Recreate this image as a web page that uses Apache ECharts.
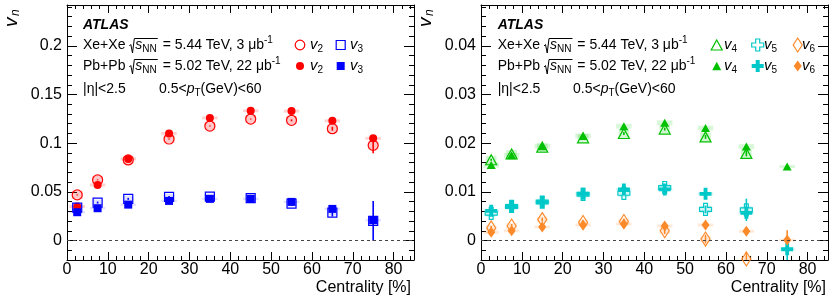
<!DOCTYPE html>
<html><head><meta charset="utf-8">
<script src="https://cdn.jsdelivr.net/npm/echarts@6/dist/echarts.min.js"></script>
<style>html,body{margin:0;padding:0;background:#fff}#c{width:830px;height:307px}#log{position:absolute;left:100px;top:120px;font:10px monospace;color:#c00;width:700px}</style>
</head><body><div id="c"></div><div id="log"></div>
<script>
window.onerror = function(m){ document.getElementById('log').textContent += ' ERR:' + m; };
function log(s){ document.getElementById('log').textContent += ' ' + s; }
// ---------------- data ----------------
const centrality = [2.5, 7.5, 15, 25, 35, 45, 55, 65, 75];

// left panel: v2, v3
const xeV2 = [0.0469, 0.0623, 0.0828, 0.1043, 0.1176, 0.1248, 0.1235, 0.1149, 0.0978];
const pbV2 = [0.0349, 0.0571, 0.0838, 0.1100, 0.1260, 0.1333, 0.1330, 0.1230, 0.1050];
const xeV3 = [0.0338, 0.0390, 0.0428, 0.0448, 0.0451, 0.0435, 0.0380, 0.0287, 0.0202];
const pbV3 = [0.0291, 0.0332, 0.0369, 0.0407, 0.0428, 0.0428, 0.0397, 0.0325, 0.0209];
const xeV2Stat = [0.0005, 0.0005, 0.0005, 0.0005, 0.0005, 0.0005, 0.001, 0.002, 0.008];
const pbV2Stat = [0, 0, 0, 0, 0, 0, 0, 0, 0.001];
const xeV3Stat = [0.001, 0.001, 0.001, 0.001, 0.001, 0.001, 0.002, 0.004, 0.0205];
const pbV3Stat = [0, 0, 0, 0, 0, 0, 0, 0.001, 0.002];
const xeV2Sys = [0.004, 0.004, 0.004, 0.004, 0.004, 0.004, 0.004, 0.004, 0.004];
const pbV2Sys = [0.0015, 0.0015, 0.0015, 0.0015, 0.0015, 0.0015, 0.0015, 0.0015, 0.0015];
const xeV3Sys = [0.003, 0.003, 0.003, 0.003, 0.003, 0.003, 0.003, 0.003, 0.003];
const pbV3Sys = [0.0012, 0.0012, 0.0012, 0.0012, 0.0012, 0.0012, 0.0012, 0.0012, 0.0012];

// right panel: v4, v5, v6
const xeV4 = [0.0166, 0.0178, 0.0192, 0.0211, 0.0220, 0.0229, 0.0213, 0.0179, null];
const pbV4 = [0.0155, 0.0175, 0.0194, 0.0215, 0.0235, 0.0242, 0.0231, 0.0193, 0.0152];
const xeV5 = [0.0056, 0.0070, 0.0079, 0.0095, 0.0097, 0.0109, 0.0064, 0.0063, null];
const pbV5 = [0.0061, 0.0069, 0.0079, 0.0096, 0.0105, 0.0105, 0.0096, 0.0057, -0.0018];
const xeV6 = [0.0026, 0.0030, 0.0043, 0.0037, 0.0039, 0.0020, 0.0003, -0.0038, null];
const pbV6 = [0.0017, 0.0020, 0.0028, 0.0032, 0.0034, 0.0030, 0.0032, 0.0019, 0.0001];
const xeV4Stat = [0.0002, 0.0002, 0.0002, 0.0002, 0.0003, 0.0003, 0.0004, 0.0006, null];
const pbV4Stat = [0, 0, 0, 0, 0, 0, 0, 0.0002, 0.0004];
const xeV5Stat = [0.0003, 0.0003, 0.0003, 0.0003, 0.0004, 0.0005, 0.0008, 0.0023, null];
const pbV5Stat = [0, 0, 0, 0, 0, 0, 0.0002, 0.0006, 0.0025];
const xeV6Stat = [0.0004, 0.0004, 0.0004, 0.0005, 0.0006, 0.0007, 0.0009, 0.0015, null];
const pbV6Stat = [0, 0, 0, 0, 0, 0.0002, 0.0003, 0.0004, 0.002];
const xeV4Sys = [0.0008, 0.0008, 0.0008, 0.0008, 0.0009, 0.0009, 0.0009, 0.0009, null];
const pbV4Sys = [0.0005, 0.0005, 0.0005, 0.0005, 0.0005, 0.0005, 0.0005, 0.0005, 0.0003];
const xeV5Sys = [0.0007, 0.0007, 0.0007, 0.0007, 0.0008, 0.0008, 0.0008, 0.0008, null];
const pbV5Sys = [0.0003, 0.0003, 0.0003, 0.0003, 0.0003, 0.0003, 0.0003, 0.0003, 0.0003];
const xeV6Sys = [0.0006, 0.0006, 0.0006, 0.0006, 0.0006, 0.0006, 0.0006, 0.0006, null];
const pbV6Sys = [0.0003, 0.0003, 0.0003, 0.0003, 0.0003, 0.0003, 0.0003, 0.0003, 0.0003];

// tick labels / tick positions
const xTicksMajor = [0, 10, 20, 30, 40, 50, 60, 70, 80];
const xTicksMinor = [2, 4, 6, 8, 12, 14, 16, 18, 22, 24, 26, 28, 32, 34, 36, 38, 42, 44, 46, 48, 52, 54, 56, 58, 62, 64, 66, 68, 72, 74, 76, 78, 82, 84];
const yLeftMajor = [0, 0.05, 0.1, 0.15, 0.2];
const yLeftMinor = [-0.01, 0.01, 0.02, 0.03, 0.04, 0.06, 0.07, 0.08, 0.09, 0.11, 0.12, 0.13, 0.14, 0.16, 0.17, 0.18, 0.19, 0.21, 0.22, 0.23, 0.24];
const yRightMajor = [0, 0.01, 0.02, 0.03, 0.04];
const yRightMinor = [-0.002, 0.002, 0.004, 0.006, 0.008, 0.012, 0.014, 0.016, 0.018, 0.022, 0.024, 0.026, 0.028, 0.032, 0.034, 0.036, 0.038, 0.042, 0.044, 0.046, 0.048];
const xRange = [0, 85];
const yLeftRange = [-0.02, 0.242];
const yRightRange = [-0.004, 0.0484];

// ---------------- style ----------------
const FF = '"Liberation Sans", Arial, Helvetica, sans-serif';
const RED = '#ff0000', BLUE = '#0000ff', GREEN = '#00c000', CYAN = '#00c8c8', ORANGE = '#fd8a2a';
const PLUS = 'path://M3.4,0H6.6V3.4H10V6.6H6.6V10H3.4V6.6H0V3.4H3.4Z';

const chart = echarts.init(document.getElementById('c'), null, {renderer: 'canvas'});

function axLine(show) { return {show: show, onZero: false, lineStyle: {color: '#000', width: 1}}; }
function xAxes(g) {
  const base = {type: 'value', gridIndex: g, min: xRange[0], max: xRange[1], splitLine: {show: false}};
  return [
    Object.assign({}, base, {position: 'bottom', axisLine: axLine(true),
      axisTick: {show: true, inside: true, length: 8, customValues: xTicksMajor, lineStyle: {color: '#000'}},
      axisLabel: {show: true, customValues: xTicksMajor, fontSize: 16, fontFamily: FF, color: '#000', margin: 2}}),
    Object.assign({}, base, {position: 'bottom', axisLine: axLine(false),
      axisTick: {show: true, inside: true, length: 4, customValues: xTicksMinor, lineStyle: {color: '#000'}}, axisLabel: {show: false}}),
    Object.assign({}, base, {position: 'top', axisLine: axLine(true),
      axisTick: {show: true, inside: true, length: 8, customValues: xTicksMajor, lineStyle: {color: '#000'}}, axisLabel: {show: false}}),
    Object.assign({}, base, {position: 'top', axisLine: axLine(false),
      axisTick: {show: true, inside: true, length: 4, customValues: xTicksMinor, lineStyle: {color: '#000'}}, axisLabel: {show: false}})
  ];
}
function yAxes(g, range, major, minor) {
  const base = {type: 'value', gridIndex: g, min: range[0], max: range[1], splitLine: {show: false}};
  return [
    Object.assign({}, base, {position: 'left', axisLine: axLine(true),
      axisTick: {show: true, inside: true, length: 10, customValues: major, lineStyle: {color: '#000'}},
      axisLabel: {show: true, customValues: major, fontSize: 16, fontFamily: FF, color: '#000', margin: 5}}),
    Object.assign({}, base, {position: 'left', axisLine: axLine(false),
      axisTick: {show: true, inside: true, length: 5, customValues: minor, lineStyle: {color: '#000'}}, axisLabel: {show: false}}),
    Object.assign({}, base, {position: 'right', axisLine: axLine(true),
      axisTick: {show: true, inside: true, length: 10, customValues: major, lineStyle: {color: '#000'}}, axisLabel: {show: false}}),
    Object.assign({}, base, {position: 'right', axisLine: axLine(false),
      axisTick: {show: true, inside: true, length: 5, customValues: minor, lineStyle: {color: '#000'}}, axisLabel: {show: false}})
  ];
}

function sysSeries(g, vals, sys, color, halfW) {
  return {
    type: 'custom', xAxisIndex: g * 4, yAxisIndex: g * 4, z: 1, silent: true, clip: true,
    data: centrality.map((c, i) => [c, vals[i], sys[i]]).filter(d => d[1] != null),
    renderItem(params, api) {
      const c = api.value(0), v = api.value(1), s = api.value(2);
      const p1 = api.coord([c - halfW, v + s]), p2 = api.coord([c + halfW, v - s]);
      return {type: 'rect', shape: {x: p1[0], y: p1[1], width: p2[0] - p1[0], height: p2[1] - p1[1]}, style: {fill: color}};
    }
  };
}
function statSeries(g, vals, stat, color) {
  return {
    type: 'custom', xAxisIndex: g * 4, yAxisIndex: g * 4, z: 2, silent: true, clip: true,
    data: centrality.map((c, i) => [c, vals[i], stat[i]]).filter(d => d[1] != null && d[2] > 0),
    renderItem(params, api) {
      const c = api.value(0), v = api.value(1), e = api.value(2);
      const p1 = api.coord([c, v + e]), p2 = api.coord([c, v - e]);
      return {type: 'line', shape: {x1: p1[0], y1: p1[1], x2: p2[0], y2: p2[1]}, style: {stroke: color, lineWidth: 1.6}};
    }
  };
}
function markSeries(g, vals, symbol, size, color, open) {
  return {
    type: 'scatter', xAxisIndex: g * 4, yAxisIndex: g * 4, z: 3, silent: true, clip: true,
    symbol: symbol, symbolSize: size,
    data: centrality.map((c, i) => [c, vals[i]]).filter(d => d[1] != null),
    itemStyle: open ? {color: 'rgba(255,255,255,0)', borderColor: color, borderWidth: 1.2, opacity: 1}
                    : {color: color, opacity: 1}
  };
}
function zeroLine(g) {
  return {
    type: 'scatter', xAxisIndex: g * 4, yAxisIndex: g * 4, data: [], silent: true,
    markLine: {silent: true, symbol: 'none', label: {show: false},
      lineStyle: {color: '#444', type: [3, 3], width: 1}, data: [{yAxis: 0}]}
  };
}

// ---------------- text helpers ----------------
const mctx = document.createElement('canvas').getContext('2d');
function tw(t, size, it, b) {
  mctx.font = (it ? 'italic ' : '') + (b ? 'bold ' : '') + size + 'px ' + FF;
  return mctx.measureText(t).width;
}
const graphics = [];
function textLine(x, yc, segs) {
  let cx = x, radStart = null;
  for (const s of segs) {
    if (s.rad === 'open') { radStart = cx; cx += 6; continue; }
    if (s.rad === 'close') {
      graphics.push({type: 'polyline', silent: true, shape: {points: [[radStart, yc + 1], [radStart + 1.5, yc - 0.5], [radStart + 3.2, yc + 8], [radStart + 5, yc - 6.5], [cx + 1, yc - 6.5]]},
        style: {stroke: '#000', lineWidth: 1, fill: null}});
      cx += 2; continue;
    }
    const size = s.size || 14;
    const dy = s.sub ? 4 : (s.sup ? -5 : 0);
    graphics.push({type: 'text', silent: true, x: cx, y: yc + dy,
      style: {text: s.t, fontSize: size, fontFamily: FF, fontStyle: s.it ? 'italic' : 'normal', fontWeight: s.b ? 'bold' : 'normal',
        fill: '#000', align: 'left', verticalAlign: 'middle'}});
    cx += tw(s.t, size, s.it, s.b);
  }
}
function sqrtLine(x, yc, sys, energy, lumi) {
  textLine(x, yc, [{t: sys + ' '}, {rad: 'open'}, {t: 's', it: true}, {t: 'NN', sub: true, size: 10}, {rad: 'close'},
    {t: ' = ' + energy + ' TeV, ' + lumi + ' \u03bcb'}, {t: '-1', sup: true, size: 10}]);
}
function vLabel(x, yc, n) { textLine(x, yc, [{t: 'v', it: true, size: 15}, {t: String(n), sub: true, size: 10}]); }
function yTitle(x, y) {
  graphics.push({type: 'group', x: x, y: y, rotation: Math.PI / 2, silent: true, children: [
    {type: 'text', x: 0, y: 0, style: {text: 'v', fontSize: 19, fontStyle: 'italic', fontFamily: FF, fill: '#000', align: 'left', verticalAlign: 'middle'}},
    {type: 'text', x: 11, y: 4, style: {text: 'n', fontSize: 12, fontStyle: 'italic', fontFamily: FF, fill: '#000', align: 'left', verticalAlign: 'middle'}}
  ]});
}
function mk(type, cx, cy, color, open) {
  const style = open ? {fill: null, stroke: color, lineWidth: 1.2} : {fill: color};
  if (type === 'circle') graphics.push({type: 'circle', silent: true, shape: {cx: cx, cy: cy, r: open ? 4.8 : 4}, style: style});
  else if (type === 'rect') { const h = open ? 4.5 : 4; graphics.push({type: 'rect', silent: true, shape: {x: cx - h, y: cy - h, width: 2 * h, height: 2 * h}, style: style}); }
  else if (type === 'tri') { const w = open ? 5.5 : 4.5, h = open ? 5 : 4.2; graphics.push({type: 'polygon', silent: true, shape: {points: [[cx - w, cy + h], [cx + w, cy + h], [cx, cy - h]]}, style: style}); }
  else if (type === 'plus') { const a = 6, b = 2; graphics.push({type: 'polygon', silent: true, shape: {points: [[cx - b, cy - a], [cx + b, cy - a], [cx + b, cy - b], [cx + a, cy - b], [cx + a, cy + b], [cx + b, cy + b], [cx + b, cy + a], [cx - b, cy + a], [cx - b, cy + b], [cx - a, cy + b], [cx - a, cy - b], [cx - b, cy - b]]}, style: style}); }
  else if (type === 'dia') { const w = open ? 4.5 : 4, h = open ? 7 : 5.5; graphics.push({type: 'polygon', silent: true, shape: {points: [[cx, cy - h], [cx + w, cy], [cx, cy + h], [cx - w, cy]]}, style: style}); }
}

// left panel texts
textLine(83, 25.5, [{t: 'ATLAS', it: true, b: true}]);
sqrtLine(83, 45, 'Xe+Xe', '5.44', '3');
sqrtLine(83, 66, 'Pb+Pb', '5.02', '22');
textLine(83, 89, [{t: '|\u03b7|<2.5'}]);
textLine(159, 89, [{t: '0.5<'}, {t: 'p', it: true}, {t: 'T', sub: true, size: 10}, {t: '(GeV)<60'}]);
mk('circle', 300, 45, RED, true); vLabel(310, 45, 2);
mk('rect', 340.7, 45, BLUE, true); vLabel(350, 45, 3);
mk('circle', 300, 66, RED, false); vLabel(310, 66, 2);
mk('rect', 340.7, 66, BLUE, false); vLabel(350, 66, 3);
yTitle(12, 27);
graphics.push({type: 'text', silent: true, x: 411, y: 288, style: {text: 'Centrality [%]', fontSize: 16, fontFamily: FF, fill: '#000', align: 'right', verticalAlign: 'middle'}});

// right panel texts
textLine(497.7, 25.5, [{t: 'ATLAS', it: true, b: true}]);
sqrtLine(497.7, 45, 'Xe+Xe', '5.44', '3');
sqrtLine(497.7, 66, 'Pb+Pb', '5.02', '22');
textLine(497.7, 89, [{t: '|\u03b7|<2.5'}]);
textLine(573, 89, [{t: '0.5<'}, {t: 'p', it: true}, {t: 'T', sub: true, size: 10}, {t: '(GeV)<60'}]);
mk('tri', 716.7, 45, GREEN, true); vLabel(724, 45, 4);
mk('plus', 757.7, 45, CYAN, true); vLabel(764, 45, 5);
mk('dia', 797.7, 45, ORANGE, true); vLabel(802, 45, 6);
mk('tri', 716.7, 66, GREEN, false); vLabel(724, 66, 4);
mk('plus', 757.7, 66, CYAN, false); vLabel(764, 66, 5);
mk('dia', 797.7, 66, ORANGE, false); vLabel(802, 66, 6);
yTitle(426, 27);
graphics.push({type: 'text', silent: true, x: 826, y: 288, style: {text: 'Centrality [%]', fontSize: 16, fontFamily: FF, fill: '#000', align: 'right', verticalAlign: 'middle'}});

const option = {
  animation: false,
  backgroundColor: '#fff',
  grid: [
    {left: 67, top: 5, width: 347, height: 255, containLabel: false},
    {left: 481, top: 5, width: 347, height: 255, containLabel: false}
  ],
  xAxis: [].concat(xAxes(0), xAxes(1)),
  yAxis: [].concat(yAxes(0, yLeftRange, yLeftMajor, yLeftMinor), yAxes(1, yRightRange, yRightMajor, yRightMinor)),
  series: [
    zeroLine(0), zeroLine(1),
    sysSeries(0, xeV2, xeV2Sys, 'rgba(255,0,0,0.22)', 1.3),
    sysSeries(0, pbV2, pbV2Sys, 'rgba(255,0,0,0.18)', 1.9),
    sysSeries(0, xeV3, xeV3Sys, 'rgba(0,0,255,0.12)', 1.3),
    sysSeries(0, pbV3, pbV3Sys, 'rgba(0,0,255,0.12)', 1.9),
    statSeries(0, xeV2, xeV2Stat, RED),
    statSeries(0, pbV2, pbV2Stat, RED),
    statSeries(0, xeV3, xeV3Stat, BLUE),
    statSeries(0, pbV3, pbV3Stat, BLUE),
    markSeries(0, xeV2, 'circle', 10, RED, true),
    markSeries(0, pbV2, 'circle', 8, RED, false),
    markSeries(0, xeV3, 'rect', 9, BLUE, true),
    markSeries(0, pbV3, 'rect', 8, BLUE, false),

    sysSeries(1, xeV4, xeV4Sys, 'rgba(0,200,0,0.18)', 1.3),
    sysSeries(1, pbV4, pbV4Sys, 'rgba(0,200,0,0.15)', 1.9),
    sysSeries(1, xeV5, xeV5Sys, 'rgba(0,200,200,0.18)', 1.3),
    sysSeries(1, pbV5, pbV5Sys, 'rgba(0,200,200,0.15)', 1.9),
    sysSeries(1, xeV6, xeV6Sys, 'rgba(253,138,42,0.18)', 1.3),
    sysSeries(1, pbV6, pbV6Sys, 'rgba(253,138,42,0.18)', 1.9),
    statSeries(1, xeV4, xeV4Stat, GREEN),
    statSeries(1, pbV4, pbV4Stat, GREEN),
    statSeries(1, xeV5, xeV5Stat, CYAN),
    statSeries(1, pbV5, pbV5Stat, CYAN),
    statSeries(1, xeV6, xeV6Stat, ORANGE),
    statSeries(1, pbV6, pbV6Stat, ORANGE),
    markSeries(1, xeV4, 'triangle', [11, 10], GREEN, true),
    markSeries(1, pbV4, 'triangle', [9, 8], GREEN, false),
    markSeries(1, xeV5, PLUS, 12, CYAN, true),
    markSeries(1, pbV5, PLUS, 12, CYAN, false),
    markSeries(1, xeV6, 'diamond', [9, 14], ORANGE, true),
    markSeries(1, pbV6, 'diamond', [8, 11], ORANGE, false)
  ],
  graphic: graphics
};
try { chart.setOption(option); } catch (e) { log('CATCH ' + e.message + ' ' + (e.stack || '').slice(0, 300)); }
</script>
</body></html>
